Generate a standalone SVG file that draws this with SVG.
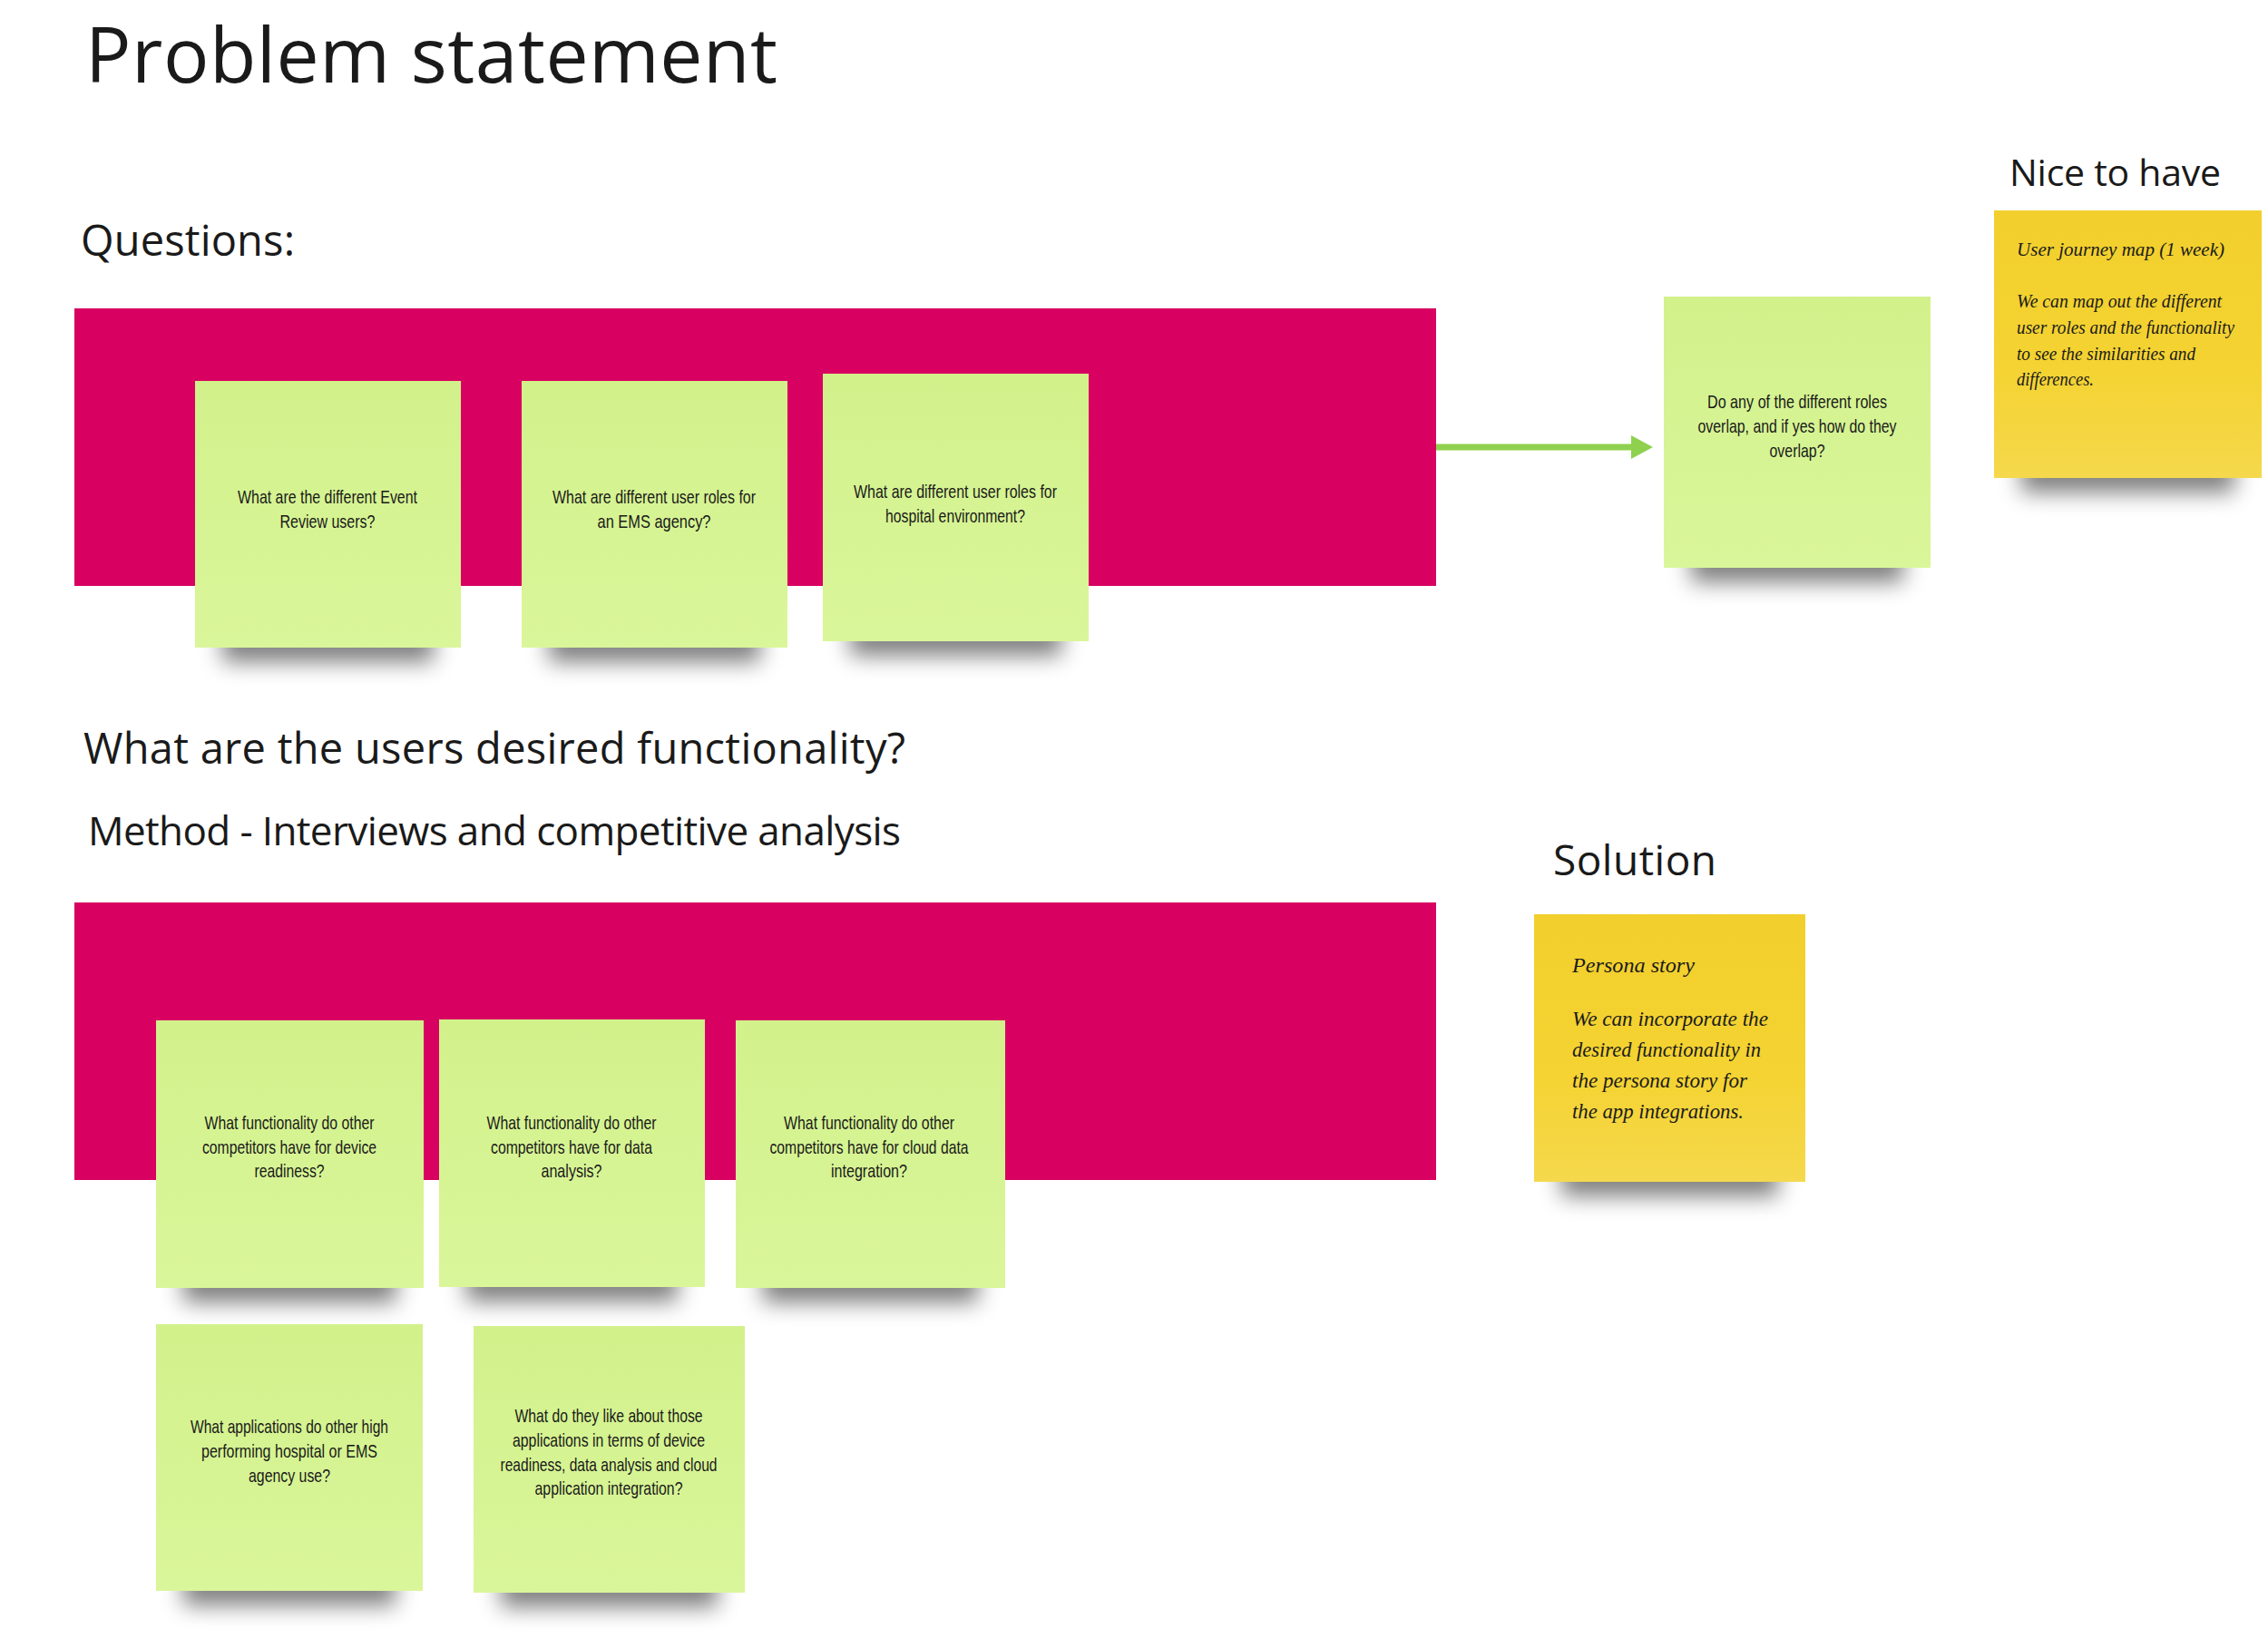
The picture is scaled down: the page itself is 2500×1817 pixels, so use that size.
<svg xmlns="http://www.w3.org/2000/svg" width="2500" height="1817" viewBox="0 0 2500 1817">
  <defs>
    <linearGradient id="gGreen" x1="0" y1="0" x2="0" y2="1">
      <stop offset="0" stop-color="#d2f18b"/>
      <stop offset="1" stop-color="#daf69a"/>
    </linearGradient>
    <linearGradient id="gYellow" x1="0" y1="0" x2="0" y2="1">
      <stop offset="0" stop-color="#f2cf2c"/>
      <stop offset="0.6" stop-color="#f4d332"/>
      <stop offset="1" stop-color="#f5d84c"/>
    </linearGradient>
    <filter id="shadowBlur" x="-30%" y="-150%" width="160%" height="400%">
      <feGaussianBlur stdDeviation="12"/>
    </filter>
    <marker id="arrowHead" markerUnits="userSpaceOnUse" markerWidth="24" markerHeight="26" viewBox="0 0 24 26" refX="1" refY="13" orient="auto">
      <path d="M0,0 L24,13 L0,26 z" fill="#8fd14f"/>
    </marker>
  </defs>
  <style>
    .head { font-family: "Open Sans", "Noto Sans", "Liberation Sans", sans-serif; fill: #1a1a1a; }
    .gtext { font-family: "Liberation Sans", "DejaVu Sans", sans-serif; font-size: 21px; fill: #1a1a1a; text-anchor: middle; }
    .ytext { font-family: "Liberation Serif", "DejaVu Serif", serif; font-style: italic; fill: #1a1a1a; }
    .green { fill: url(#gGreen); }
    .yellow { fill: url(#gYellow); }
    .shadow { fill: #000; opacity: 0.5; filter: url(#shadowBlur); }
    .frame { fill: #d80061; }
  </style>
  <rect x="0" y="0" width="2500" height="1817" fill="#ffffff"/>

  <g id="headings">
    <text class="head" x="94" y="91" font-size="84" textLength="763">Problem statement</text>
    <text class="head" x="89" y="282" font-size="47" textLength="236">Questions:</text>
    <text class="head" x="2215" y="205" font-size="41" textLength="233">Nice to have</text>
    <text class="head" x="92" y="842" font-size="47" textLength="906">What are the users desired functionality?</text>
    <text class="head" x="97" y="932" font-size="44" textLength="896">Method - Interviews and competitive analysis</text>
    <text class="head" x="1712" y="965" font-size="46" textLength="180">Solution</text>
  </g>

  <g id="frame-questions">
    <rect class="frame" x="82" y="340" width="1501" height="306"/>
  </g>
  <g id="frame-functionality">
    <rect class="frame" x="82" y="995" width="1501" height="306"/>
  </g>

  <g id="connectors">
    <line x1="1583" y1="493" x2="1799" y2="493" stroke="#8fd14f" stroke-width="7" marker-end="url(#arrowHead)"/>
  </g>

  <g id="sticky-event-review-users">
    <rect class="shadow" x="245" y="690" width="233" height="40"/>
    <rect class="green" x="215" y="420" width="293" height="294"/>
    <text class="gtext" x="361" y="555" textLength="198" lengthAdjust="spacingAndGlyphs">What are the different Event</text>
    <text class="gtext" x="361" y="582" textLength="105" lengthAdjust="spacingAndGlyphs">Review users?</text>
  </g>

  <g id="sticky-ems-roles">
    <rect class="shadow" x="605" y="690" width="233" height="40"/>
    <rect class="green" x="575" y="420" width="293" height="294"/>
    <text class="gtext" x="721" y="555" textLength="224" lengthAdjust="spacingAndGlyphs">What are different user roles for</text>
    <text class="gtext" x="721" y="582" textLength="125" lengthAdjust="spacingAndGlyphs">an EMS agency?</text>
  </g>

  <g id="sticky-hospital-roles">
    <rect class="shadow" x="937" y="683" width="233" height="40"/>
    <rect class="green" x="907" y="412" width="293" height="295"/>
    <text class="gtext" x="1053" y="549" textLength="224" lengthAdjust="spacingAndGlyphs">What are different user roles for</text>
    <text class="gtext" x="1053" y="576" textLength="154" lengthAdjust="spacingAndGlyphs">hospital environment?</text>
  </g>

  <g id="sticky-roles-overlap">
    <rect class="shadow" x="1864" y="602" width="234" height="40"/>
    <rect class="green" x="1834" y="327" width="294" height="299"/>
    <text class="gtext" x="1981" y="450" textLength="198" lengthAdjust="spacingAndGlyphs">Do any of the different roles</text>
    <text class="gtext" x="1981" y="477" textLength="219" lengthAdjust="spacingAndGlyphs">overlap, and if yes how do they</text>
    <text class="gtext" x="1981" y="504" textLength="61" lengthAdjust="spacingAndGlyphs">overlap?</text>
  </g>

  <g id="sticky-user-journey-map">
    <rect class="shadow" x="2228" y="503" width="235" height="40"/>
    <rect class="yellow" x="2198" y="232" width="295" height="295"/>
    <text class="ytext" x="2223" y="282" font-size="21" textLength="229" lengthAdjust="spacingAndGlyphs">User journey map (1 week)</text>
    <text class="ytext" x="2223" y="339" font-size="20" textLength="226" lengthAdjust="spacingAndGlyphs">We can map out the different</text>
    <text class="ytext" x="2223" y="368" font-size="20" textLength="240" lengthAdjust="spacingAndGlyphs">user roles and the functionality</text>
    <text class="ytext" x="2223" y="397" font-size="20" textLength="197" lengthAdjust="spacingAndGlyphs">to see the similarities and</text>
    <text class="ytext" x="2223" y="425" font-size="20" textLength="85" lengthAdjust="spacingAndGlyphs">differences.</text>
  </g>

  <g id="sticky-device-readiness">
    <rect class="shadow" x="202" y="1396" width="235" height="40"/>
    <rect class="green" x="172" y="1125" width="295" height="295"/>
    <text class="gtext" x="319" y="1245" textLength="187" lengthAdjust="spacingAndGlyphs">What functionality do other</text>
    <text class="gtext" x="319" y="1272" textLength="192" lengthAdjust="spacingAndGlyphs">competitors have for device</text>
    <text class="gtext" x="319" y="1298" textLength="77" lengthAdjust="spacingAndGlyphs">readiness?</text>
  </g>

  <g id="sticky-data-analysis">
    <rect class="shadow" x="514" y="1395" width="233" height="40"/>
    <rect class="green" x="484" y="1124" width="293" height="295"/>
    <text class="gtext" x="630" y="1245" textLength="187" lengthAdjust="spacingAndGlyphs">What functionality do other</text>
    <text class="gtext" x="630" y="1272" textLength="178" lengthAdjust="spacingAndGlyphs">competitors have for data</text>
    <text class="gtext" x="630" y="1298" textLength="67" lengthAdjust="spacingAndGlyphs">analysis?</text>
  </g>

  <g id="sticky-cloud-integration">
    <rect class="shadow" x="841" y="1396" width="237" height="40"/>
    <rect class="green" x="811" y="1125" width="297" height="295"/>
    <text class="gtext" x="958" y="1245" textLength="188" lengthAdjust="spacingAndGlyphs">What functionality do other</text>
    <text class="gtext" x="958" y="1272" textLength="219" lengthAdjust="spacingAndGlyphs">competitors have for cloud data</text>
    <text class="gtext" x="958" y="1298" textLength="84" lengthAdjust="spacingAndGlyphs">integration?</text>
  </g>

  <g id="sticky-other-applications">
    <rect class="shadow" x="202" y="1730" width="234" height="40"/>
    <rect class="green" x="172" y="1460" width="294" height="294"/>
    <text class="gtext" x="319" y="1580" textLength="218" lengthAdjust="spacingAndGlyphs">What applications do other high</text>
    <text class="gtext" x="319" y="1607" textLength="194" lengthAdjust="spacingAndGlyphs">performing hospital or EMS</text>
    <text class="gtext" x="319" y="1634" textLength="90" lengthAdjust="spacingAndGlyphs">agency use?</text>
  </g>

  <g id="sticky-what-they-like">
    <rect class="shadow" x="552" y="1732" width="239" height="40"/>
    <rect class="green" x="522" y="1462" width="299" height="294"/>
    <text class="gtext" x="671" y="1568" textLength="207" lengthAdjust="spacingAndGlyphs">What do they like about those</text>
    <text class="gtext" x="671" y="1595" textLength="212" lengthAdjust="spacingAndGlyphs">applications in terms of device</text>
    <text class="gtext" x="671" y="1622" textLength="239" lengthAdjust="spacingAndGlyphs">readiness, data analysis and cloud</text>
    <text class="gtext" x="671" y="1648" textLength="163" lengthAdjust="spacingAndGlyphs">application integration?</text>
  </g>

  <g id="sticky-persona-story">
    <rect class="shadow" x="1721" y="1279" width="239" height="40"/>
    <rect class="yellow" x="1691" y="1008" width="299" height="295"/>
    <text class="ytext" x="1733" y="1072" font-size="23" textLength="135" lengthAdjust="spacingAndGlyphs">Persona story</text>
    <text class="ytext" x="1733" y="1131" font-size="23" textLength="216" lengthAdjust="spacingAndGlyphs">We can incorporate the</text>
    <text class="ytext" x="1733" y="1165" font-size="23" textLength="208" lengthAdjust="spacingAndGlyphs">desired functionality in</text>
    <text class="ytext" x="1733" y="1199" font-size="23" textLength="193" lengthAdjust="spacingAndGlyphs">the persona story for</text>
    <text class="ytext" x="1733" y="1233" font-size="23" textLength="189" lengthAdjust="spacingAndGlyphs">the app integrations.</text>
  </g>
</svg>
